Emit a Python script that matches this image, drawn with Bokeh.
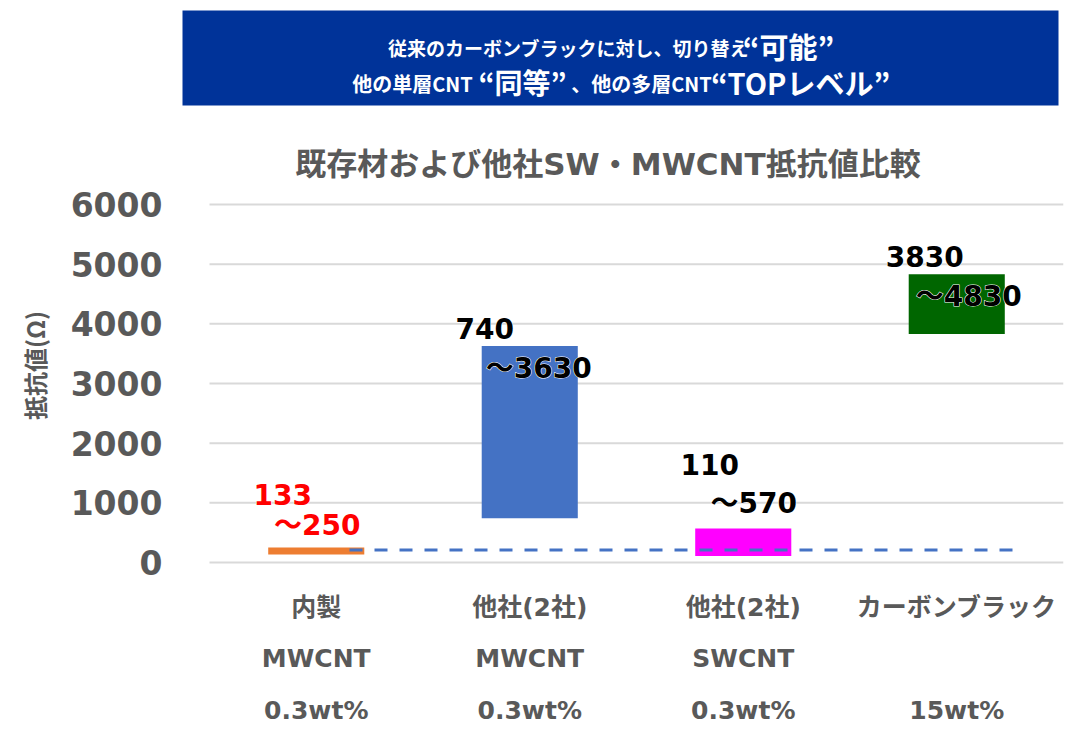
from bokeh.plotting import figure
from bokeh.models import Range1d, FixedTicker
from bokeh.core.properties import value
from bokeh.embed import file_html
from bokeh.resources import INLINE

# ---------------- data ----------------
categories = ["内製", "他社(2社)", "他社(2社)", "カーボンブラック"]
materials = ["MWCNT", "MWCNT", "SWCNT", ""]
loadings = ["0.3wt%", "0.3wt%", "0.3wt%", "15wt%"]
low_values = [133, 740, 110, 3830]
high_values = [250, 3630, 570, 4830]
bar_colors = ["#ED7D31", "#4472C4", "#FF00FF", "#006600"]
label_colors = ["#FF0000", "#000000", "#000000", "#000000"]
y_ticks = [0, 1000, 2000, 3000, 4000, 5000, 6000]
reference_level = 210
title_text = "既存材および他社SW・MWCNT抵抗値比較"
y_label = "抵抗値(Ω)"
banner_line1 = ["従来のカーボンブラックに対し、切り替え", "“可能”"]
banner_line2 = ["他の単層CNT", "“同等”", "、他の多層CNT", "“TOPレベル”"]

# ---------------- layout (pixels) ----------------
W, H = 1081, 730
FRAME_L, FRAME_R, FRAME_T, FRAME_B = 180, 1063, 0, 730
X0_PX, CAT_W = 209.0, 213.5
Y0_PX, YTOP_PX = 562.0, 204.0
PPU = (Y0_PX - YTOP_PX) / 6000.0

x_start = -(X0_PX - FRAME_L) / CAT_W
x_end = x_start + (FRAME_R - FRAME_L) / CAT_W
y_start = -(FRAME_B - Y0_PX) / PPU
y_end = (Y0_PX - FRAME_T) / PPU


def px2x(px):
    return (px - X0_PX) / CAT_W


def px2y(py):
    return (Y0_PX - py) / PPU


LATIN_CJK = value("DejaVu Sans, Noto Sans CJK JP")
CJK = value("Noto Sans CJK JP")
GRAY = "#595959"

p = figure(width=W, height=H, x_range=Range1d(x_start, x_end),
           y_range=Range1d(y_start, y_end), x_axis_location=None,
           output_backend="svg", toolbar_location=None,
           min_border_left=FRAME_L, min_border_right=W - FRAME_R,
           min_border_top=FRAME_T, min_border_bottom=H - FRAME_B)
p.xgrid.visible = False
p.ygrid.visible = False
p.outline_line_color = None
p.background_fill_color = "white"
p.border_fill_color = "white"

# y axis
ax = p.yaxis[0]
ax.ticker = FixedTicker(ticks=y_ticks)
ax.axis_line_color = None
ax.major_tick_line_color = None
ax.minor_tick_line_color = None
ax.major_label_text_font = "DejaVu Sans"
ax.major_label_text_font_size = "33px"
ax.major_label_text_font_style = "bold"
ax.major_label_text_color = GRAY
ax.major_label_standoff = 12
ax.axis_label = y_label
ax.axis_label_text_font = "Noto Sans CJK JP"
ax.axis_label_text_font_size = "24px"
ax.axis_label_text_font_style = "bold"
ax.axis_label_text_color = GRAY
ax.axis_label_standoff = 16

# gridlines
p.segment(x0=0, x1=len(categories), y0=y_ticks, y1=y_ticks,
          line_color="#D9D9D9", line_width=2)

# bars
x_centers = [i + 0.5 for i in range(len(categories))]
p.vbar(x=x_centers, width=0.45, bottom=low_values, top=high_values,
       fill_color=bar_colors, line_color=None)

# reference dashed line
p.line(x=[px2x(349), px2x(1015)], y=[reference_level, reference_level],
       line_color="#4472C4", line_width=3, line_dash="13 12")

# value labels (white glow underneath, solid text on top)
lo_dx = [-33.5, -45, -33.5, -32]
lo_dy = [-53.4, -17.7, -64.3, -18]
hi_dx = [1, 9, 10.5, 12]
hi_dy = [-22.4, 22.3, -25.3, 21.9]
label_sets = [
    ([c + d / CAT_W for c, d in zip(x_centers, lo_dx)], lo_dy,
     [str(v) for v in low_values]),
    ([c + d / CAT_W for c, d in zip(x_centers, hi_dx)], hi_dy,
     ["～" + str(v) for v in high_values]),
]
for xs, dys, texts in label_sets:
    p.text(x=xs, y=high_values, y_offset=dys, text=texts,
           text_color="white", text_font=LATIN_CJK, text_font_size="28px",
           text_font_style="bold", text_align="center", text_baseline="middle",
           text_outline_color="white")
    p.text(x=xs, y=high_values, y_offset=dys, text=texts,
           text_color=label_colors, text_font=LATIN_CJK, text_font_size="28px",
           text_font_style="bold", text_align="center", text_baseline="middle")

# category labels
for row, off in zip([categories, materials, loadings], [45, 96, 148]):
    p.text(x=x_centers, y=[0] * len(x_centers), y_offset=off, text=row,
           text_color=GRAY, text_font=LATIN_CJK, text_font_size="25px",
           text_font_style="bold", text_align="center", text_baseline="middle")

# chart title
p.text(x=[px2x(607.5)], y=[px2y(163)], text=[title_text], text_color=GRAY,
       text_font=LATIN_CJK, text_font_size="31px", text_font_style="bold",
       text_align="center", text_baseline="middle")

# banner
p.quad(left=[px2x(182)], right=[px2x(1058)], top=[px2y(10)], bottom=[px2y(105)],
       fill_color="#003399", line_color=None)
l1_cx = [568, 788]
l1_cy = [47, 45]
l1_fs = ["19px", "29px"]
for t, cx, cy, fs in zip(banner_line1, l1_cx, l1_cy, l1_fs):
    p.text(x=[px2x(cx)], y=[px2y(cy)], text=[t], text_color="white",
           text_font=CJK, text_font_size=fs, text_font_style="bold",
           text_align="center", text_baseline="middle")
l2_cx = [412, 522, 641, 800]
l2_cy = [83, 81, 83, 81]
l2_fs = ["20px", "28px", "20px", "29px"]
for t, cx, cy, fs in zip(banner_line2, l2_cx, l2_cy, l2_fs):
    p.text(x=[px2x(cx)], y=[px2y(cy)], text=[t], text_color="white",
           text_font=CJK, text_font_size=fs, text_font_style="bold",
           text_align="center", text_baseline="middle")

open("out.html", "w").write(file_html(p, INLINE))
